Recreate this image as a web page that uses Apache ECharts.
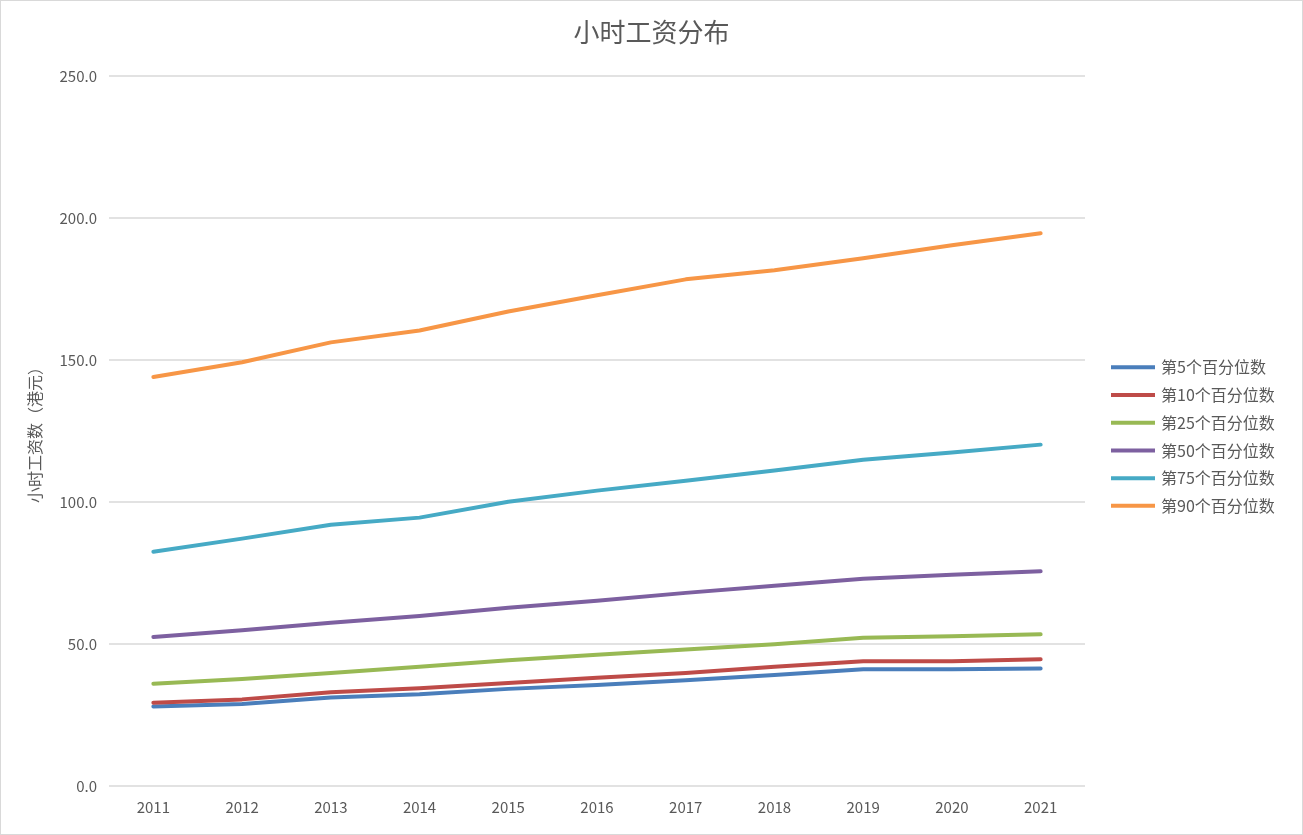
<!DOCTYPE html>
<html><head><meta charset="utf-8">
<script src="https://cdn.jsdelivr.net/npm/echarts@6/dist/echarts.min.js"></script>
<style>html,body{margin:0;padding:0;background:#fff}#c{width:1303px;height:835px;box-sizing:border-box;border:1px solid #d9d9d9}</style>
</head><body><div id="c"></div>
<script>
const years = ['2011','2012','2013','2014','2015','2016','2017','2018','2019','2020','2021'];
const p5  = [28.0, 28.9, 31.2, 32.3, 34.2, 35.6, 37.2, 39.1, 41.1, 41.1, 41.4];
const p10 = [29.3, 30.5, 33.0, 34.4, 36.3, 38.1, 39.8, 42.0, 43.9, 43.9, 44.6];
const p25 = [36.0, 37.7, 39.8, 42.0, 44.3, 46.2, 48.1, 49.9, 52.2, 52.7, 53.4];
const p50 = [52.5, 54.8, 57.5, 59.9, 62.8, 65.2, 68.0, 70.5, 73.0, 74.4, 75.6];
const p75 = [82.5, 87.1, 92.0, 94.5, 100.1, 104.0, 107.5, 111.1, 114.9, 117.4, 120.2];
const p90 = [144.0, 149.2, 156.2, 160.4, 167.1, 172.8, 178.4, 181.6, 185.8, 190.4, 194.6];
const names = ['第5个百分位数','第10个百分位数','第25个百分位数','第50个百分位数','第75个百分位数','第90个百分位数'];
const colors = ['#4a7ebb','#be4b48','#98b954','#7d60a0','#46aac5','#f79646'];
const seriesData = [p5,p10,p25,p50,p75,p90];
const font = '"Noto Sans CJK SC", "Noto Sans", sans-serif';
const chart = echarts.init(document.getElementById('c'));
chart.setOption({
  animation:false,
  color: colors,
  title:{text:'小时工资分布',left:'center',top:13,textStyle:{fontFamily:font,fontSize:26,fontWeight:'normal',color:'#595959'}},
  legend:{orient:'vertical',left:1105,top:350,itemWidth:44,itemHeight:4,itemGap:5,icon:'rect',
    textStyle:{fontFamily:font,fontSize:16,height:22.7,lineHeight:22.7,color:'#595959',padding:[0,0,0,1]},data:names},
  grid:{left:108,right:217,top:75,bottom:48},
  xAxis:{type:'category',data:years,boundaryGap:true,
    axisLine:{show:false},axisTick:{show:false},
    axisLabel:{fontFamily:font,fontSize:15,color:'#595959',margin:14}},
  yAxis:{type:'value',min:0,max:250,interval:50,
    name:'小时工资数（港元）',nameLocation:'middle',nameGap:66,nameRotate:90,
    nameTextStyle:{fontFamily:font,fontSize:16,color:'#595959'},
    axisLine:{show:false},axisTick:{show:false},
    axisLabel:{fontFamily:font,fontSize:15,color:'#595959',margin:12,formatter:v=>v.toFixed(1)},
    splitLine:{lineStyle:{color:'#d9d9d9',width:1.5}}},
  series: seriesData.map((d,i)=>({name:names[i],type:'line',data:d,showSymbol:false,symbol:'none',
    lineStyle:{width:4,color:colors[i],cap:'round',join:'round'},itemStyle:{color:colors[i]}}))
});
</script></body></html>
